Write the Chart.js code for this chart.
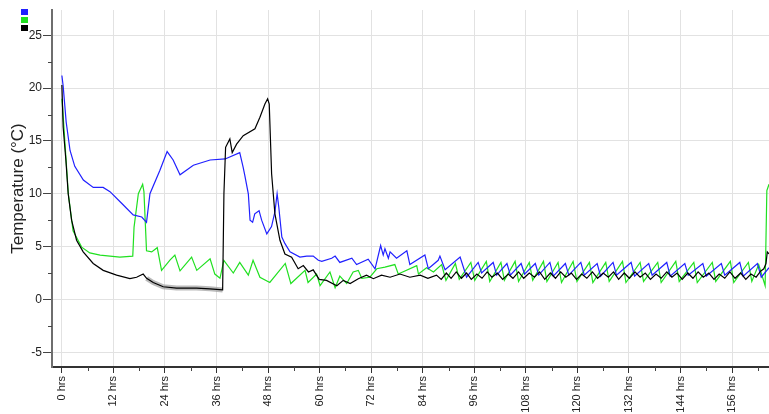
<!DOCTYPE html>
<html>
<head>
<meta charset="utf-8">
<script src="https://cdn.jsdelivr.net/npm/chart.js@4"></script>
<style>
  html, body { margin: 0; padding: 0; background: #ffffff; }
  #wrap { width: 769px; height: 414px; }
</style>
</head>
<body>
<div id="wrap"><canvas id="chart" width="769" height="414"></canvas></div>
<script>
// Axis ticks
const xTickHours = [0, 12, 24, 36, 48, 60, 72, 84, 96, 108, 120, 132, 144, 156];
const yTickValues = [-5, 0, 5, 10, 15, 20, 25];

// Probe 1 (blue)
const blueHours = [0, 0.3, 1.0, 1.9, 3.0, 5.0, 7.3, 9.6, 11.2, 13.9, 16.6, 18.6, 19.7, 20.5, 22.8, 24.5, 25.9, 27.5, 30.6, 34.5, 38.0, 41.4,
  42.2, 42.6, 43.4, 43.8, 44.4, 44.9, 45.9, 46.5, 47.7, 48.8, 49.6, 50.1, 50.5, 51.2, 51.9, 53.1, 55.4, 57.0, 58.5, 59.7,
  60.5, 62.8, 63.6, 64.7, 67.5, 68.6, 71.3, 72.9, 74.2, 74.8, 75.2, 76.0, 76.4, 77.9, 80.3, 81.0, 84.5, 85.3, 87.6, 88.0,
  89.2, 92.7, 94.2, 96.9, 97.7, 100.4, 101.2, 103.6, 104.4, 106.9, 107.7, 110.2, 111.0, 113.6, 114.4, 117.2, 118.0, 120.8, 121.6,
  124.6, 125.4, 128.3, 129.1, 132.5, 133.3, 136.6, 137.4, 140.8, 141.6, 145.0, 145.8, 149.2, 150.0, 153.5, 154.3, 157.8, 158.6,
  161.9, 162.8, 164.6];
const blueTemps = [21.2, 20.2, 16.8, 14.1, 12.6, 11.3, 10.6, 10.6, 10.2, 9.1, 8.0, 7.8, 7.3, 10.0, 12.2, 14.0, 13.2, 11.8, 12.7, 13.2, 13.3, 13.9,
  12.5, 11.7, 10.0, 7.5, 7.3, 8.1, 8.4, 7.5, 6.2, 6.9, 8.3, 10.0, 8.7, 5.9, 5.3, 4.5, 4.0, 4.1, 4.1, 3.7,
  3.6, 3.9, 4.1, 3.5, 3.9, 3.3, 3.8, 2.9, 5.1, 4.2, 4.8, 3.9, 4.5, 3.9, 4.6, 3.3, 4.2, 2.9, 3.7, 4.1,
  2.8, 4.0, 2.1, 3.5, 2.5, 3.5, 2.3, 3.4, 2.3, 3.4, 2.4, 3.4, 2.3, 3.5, 2.2, 3.4, 2.3, 3.5, 2.3,
  3.4, 2.2, 3.5, 2.3, 3.5, 2.2, 3.4, 2.3, 3.5, 2.2, 3.4, 2.3, 3.4, 2.2, 3.4, 2.3, 3.5, 2.2,
  3.4, 2.1, 3.0];

// Probe 2 (green)
const greenHours = [0, 0.16, 1.5, 2.6, 4.6, 6.5, 8.9, 11.2, 13.5, 16.5, 16.8, 17.8, 18.8, 19.1, 19.7, 20.9, 22.2, 23.2, 25.2, 26.3,
  27.5, 30.2, 31.4, 34.5, 35.6, 36.8, 37.7, 39.9, 41.4, 43.4, 44.5, 46.1, 48.4, 52.0, 53.3, 56.6, 57.3, 59.3, 60.1, 62.4,
  63.6, 64.7, 66.3, 67.8, 69.0, 69.8, 71.7, 73.3, 75.2, 77.5, 78.3, 82.6, 83.0, 84.9, 86.5, 88.4, 89.4, 91.6, 92.5, 95.2,
  96.1, 98.8, 99.6, 102.2, 103.0, 105.5, 106.3, 108.8, 109.6, 112.1, 112.9, 115.5, 116.3, 119.0, 119.9, 122.8, 123.6, 126.6, 127.4,
  130.5, 131.3, 134.6, 135.4, 138.7, 139.5, 142.9, 143.7, 147.1, 147.9, 151.4, 152.2, 155.6, 156.4, 159.8, 160.6, 162.2, 163.7,
  164.1, 164.6];
const greenTemps = [19.0, 18.2, 10.0, 6.5, 4.95, 4.4, 4.2, 4.1, 4.0, 4.1, 6.85, 10.0, 10.9, 10.2, 4.6, 4.5, 4.9, 2.75, 3.75, 4.2,
  2.7, 4.0, 2.75, 3.85, 2.4, 2.0, 3.7, 2.5, 3.5, 2.3, 3.7, 2.1, 1.6, 3.4, 1.5, 2.75, 1.6, 2.4, 1.3, 2.6,
  1.1, 2.2, 1.5, 2.6, 2.75, 2.0, 2.1, 2.9, 3.05, 3.3, 2.4, 3.2, 2.4, 3.0, 2.6, 3.3, 1.8, 3.4, 1.9, 3.5,
  1.8, 3.6, 1.7, 3.5, 1.8, 3.6, 1.7, 3.5, 1.8, 3.6, 1.7, 3.5, 1.6, 3.6, 1.7, 3.5, 1.6, 3.5, 1.7,
  3.6, 1.6, 3.5, 1.7, 3.5, 1.6, 3.6, 1.7, 3.5, 1.6, 3.5, 1.7, 3.6, 1.6, 3.5, 1.7, 3.3, 1.3,
  10.3, 10.9];

// Probe 3 (black)
const blackHours = [0, 0.3, 0.93, 1.47, 2.26, 3.42, 4.96, 7.29, 9.62, 12.74, 15.83, 17.39, 18.93, 19.72, 21.26, 23.59, 26.7, 31.36, 34.46, 37.42,
  37.72, 38.11, 39.1, 39.65, 40.67, 42.21, 44.94, 46.1, 47.26, 47.89, 48.27, 48.82, 49.59, 50.76, 51.92, 53.48, 55.0, 56.2, 57.4, 58.5,
  59.9, 61.6, 64.0, 65.5, 67.1, 69.0, 70.9, 72.5, 74.4, 76.4, 78.7, 81.0, 83.4, 85.2, 87.2, 88.3, 89.5, 90.6, 91.8, 93.0,
  94.2, 95.3, 96.6, 97.8, 99.0, 100.1, 101.4, 102.6, 103.9, 105.0, 106.3, 107.5, 108.8, 110.0, 111.2, 112.4, 113.7, 114.9, 116.1, 117.3,
  118.6, 119.8, 121.0, 122.2, 123.5, 124.7, 126.0, 127.2, 128.4, 129.6, 130.9, 132.1, 133.4, 134.6, 135.8, 137.0, 138.3, 139.5, 140.8, 142.0,
  143.2, 144.4, 145.7, 146.9, 148.1, 149.3, 150.6, 151.8, 153.0, 154.3, 155.5, 156.7, 158.0, 159.2, 160.4, 161.6, 162.7, 163.4, 163.9, 164.2,
  164.6];
const blackTemps = [20.3, 16.3, 13.2, 10.0, 7.5, 5.6, 4.5, 3.4, 2.75, 2.3, 1.96, 2.1, 2.4, 2.0, 1.6, 1.2, 1.07, 1.07, 1.0, 0.9,
  10.0, 14.4, 15.2, 13.9, 14.7, 15.5, 16.15, 17.25, 18.5, 19.0, 18.5, 11.9, 8.1, 5.6, 4.3, 4.0, 2.9, 3.2, 2.6, 2.8,
  1.9, 1.8, 1.3, 1.8, 1.5, 1.96, 2.3, 1.96, 2.3, 2.1, 2.4, 2.1, 2.3, 2.0, 2.3, 1.9, 2.5, 2.0, 2.6, 2.0,
  2.5, 1.9, 2.4, 2.0, 2.6, 2.1, 2.5, 1.9, 2.4, 2.0, 2.6, 2.0, 2.5, 2.1, 2.6, 1.9, 2.5, 2.0, 2.6, 2.1,
  2.5, 1.9, 2.4, 2.0, 2.6, 2.0, 2.5, 2.1, 2.6, 1.9, 2.5, 2.0, 2.6, 2.1, 2.5, 1.9, 2.4, 2.0, 2.6, 2.1,
  2.5, 1.9, 2.5, 2.0, 2.6, 2.1, 2.5, 1.9, 2.4, 2.0, 2.6, 2.0, 2.5, 1.9, 2.4, 2.1, 2.7, 2.9, 3.4, 4.5,
  4.3];

const toPoints = (hours, temps) => hours.map((h, i) => ({ x: h, y: temps[i] }));

const bluePts = toPoints(blueHours, blueTemps);
const greenPts = toPoints(greenHours, greenTemps);
const blackPts = toPoints(blackHours, blackTemps);
// grey spread drawn beneath the black trace while it sits near 1 °C
const blackSpreadPts = blackPts.filter(p => p.x >= 19.7 && p.x <= 37.5);

const SERIES_COLORS = ['#2020ff', '#20e020', '#000000'];

// Small coloured key squares and minor tick marks
const extrasPlugin = {
  id: 'extras',
  afterDraw(chart) {
    const ctx = chart.ctx;
    const xs = chart.scales.x, ys = chart.scales.y;
    const area = chart.chartArea;
    ctx.save();
    // key squares
    SERIES_COLORS.forEach((c, i) => {
      ctx.fillStyle = c;
      ctx.fillRect(21, 9 + i * 8, 7, 6);
    });
    // minor ticks
    ctx.strokeStyle = '#444';
    ctx.lineWidth = 1;
    ctx.beginPath();
    for (let h = 6; h < xs.max; h += 12) {
      const px = Math.round(xs.getPixelForValue(h)) + 0.5;
      ctx.moveTo(px, area.bottom);
      ctx.lineTo(px, area.bottom + 4);
    }
    for (let v = -2.5; v < ys.max; v += 5) {
      const py = Math.round(ys.getPixelForValue(v)) + 0.5;
      ctx.moveTo(area.left - 4, py);
      ctx.lineTo(area.left, py);
    }
    ctx.stroke();
    ctx.restore();
  }
};

new Chart(document.getElementById('chart'), {
  type: 'line',
  data: {
    datasets: [
      { label: 'spread', data: blackSpreadPts, borderColor: 'rgba(150,150,150,0.65)', borderWidth: 5, order: 4 },
      { label: 'Probe 2', data: greenPts, borderColor: SERIES_COLORS[1], borderWidth: 1.2, order: 3 },
      { label: 'Probe 1', data: bluePts, borderColor: SERIES_COLORS[0], borderWidth: 1.2, order: 2 },
      { label: 'Probe 3', data: blackPts, borderColor: SERIES_COLORS[2], borderWidth: 1.2, order: 1 }
    ]
  },
  options: {
    responsive: false,
    animation: false,
    devicePixelRatio: 1,
    layout: { padding: { top: 10, left: 0, right: 0, bottom: 0 } },
    elements: { point: { radius: 0 }, line: { tension: 0 } },
    plugins: { legend: { display: false }, tooltip: { enabled: false } },
    scales: {
      x: {
        type: 'linear',
        min: -2.3,
        max: 164.6,
        afterBuildTicks: s => { s.ticks = xTickHours.map(v => ({ value: v })); },
        afterFit: s => { s.height = 47; },
        ticks: {
          autoSkip: false,
          minRotation: 90,
          maxRotation: 90,
          padding: 3,
          color: '#222',
          font: { family: 'Liberation Sans, Arial, sans-serif', size: 11 },
          callback: v => v + ' hrs'
        },
        grid: { color: '#e2e2e2', lineWidth: 1, tickLength: 6, tickColor: '#333' },
        border: { color: '#333', width: 2 }
      },
      y: {
        type: 'linear',
        min: -6.4,
        max: 27.4,
        afterBuildTicks: s => { s.ticks = yTickValues.map(v => ({ value: v })); },
        afterFit: s => { s.width = 52; },
        ticks: {
          padding: 1,
          color: '#222',
          font: { family: 'Liberation Sans, Arial, sans-serif', size: 12 }
        },
        grid: { color: '#e2e2e2', lineWidth: 1, tickLength: 9, tickColor: '#444' },
        border: { color: '#6e6e6e', width: 2 },
        title: {
          display: true,
          text: 'Temperature (°C)',
          color: '#222',
          padding: { top: 8, bottom: 0 },
          font: { family: 'Liberation Sans, Arial, sans-serif', size: 17 }
        }
      }
    }
  },
  plugins: [extrasPlugin]
});
</script>
</body>
</html>
